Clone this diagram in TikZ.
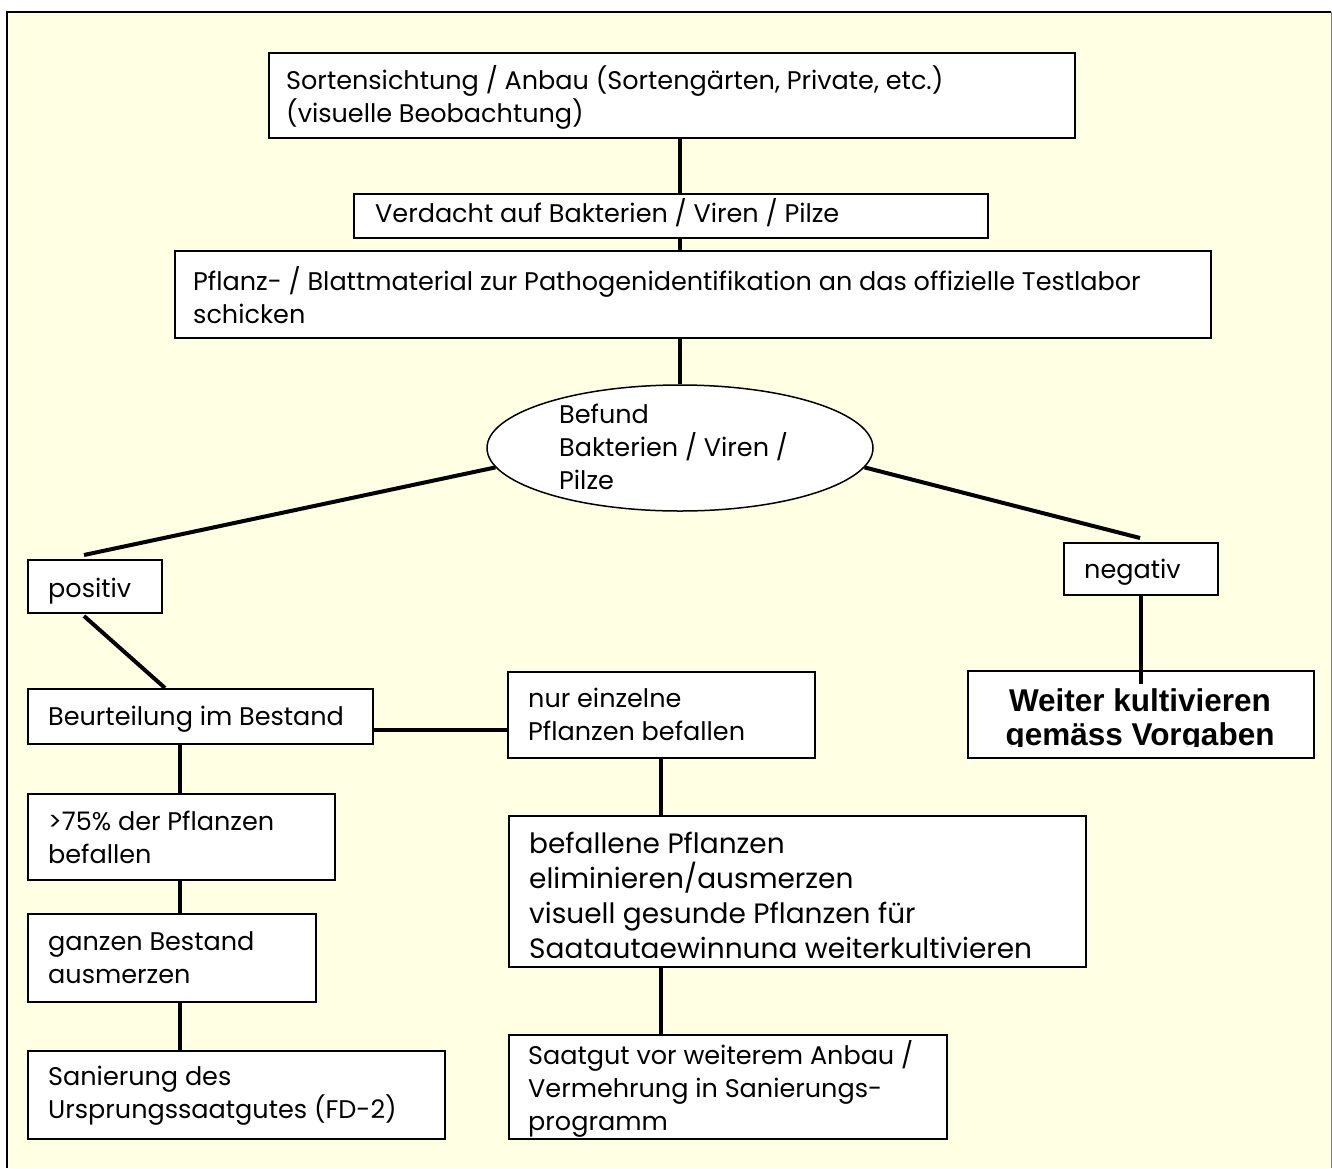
\documentclass[tikz,border=0pt]{standalone}
\usepackage{fontspec}
\setmainfont{Poppins}
\newfontfamily\arialfont{Liberation Sans}
\usetikzlibrary{shapes.geometric,calc}
\definecolor{bgyellow}{RGB}{255,255,228}
\begin{document}
\begin{tikzpicture}[x=1pt,y=-1pt,
  box/.style={draw=black, line width=1.5pt, fill=white, rectangle, inner sep=0pt, anchor=north west},
  txt/.style={inner sep=0pt, anchor=west, align=left, font=\fontsize{25.5}{33}\selectfont},
  stxt/.style={inner sep=0pt, anchor=base west, font=\fontsize{25.5}{33}\selectfont},
  con/.style={line width=4pt},
]
\useasboundingbox (0,0) rectangle (1332,1168);
\fill[bgyellow] (7,12) rectangle (1331,1168);
\draw[line width=1.5pt] (7,1168) -- (7,12) -- (1331,12);
\draw[gray, line width=1pt] (1331,12) -- (1331,1168);

% boxes
\node[box, minimum width=806, minimum height=85] (A) at (268,52) {};
\node[box, minimum width=634, minimum height=44] (B) at (353,193) {};
\node[box, minimum width=1036, minimum height=87] (C) at (174,250) {};
\node[draw=black, line width=1.5pt, fill=white, ellipse, inner sep=0pt, minimum width=386, minimum height=126] (D) at (680,448) {};
\node[box, minimum width=134, minimum height=53] (P) at (27,559) {};
\node[box, minimum width=154, minimum height=52] (N) at (1063,542) {};
\node[box, minimum width=345, minimum height=55] (Beu) at (27,688) {};
\node[box, minimum width=307, minimum height=86] (Nur) at (507,671) {};
\node[box, minimum width=346, minimum height=87] (W) at (967,670) {};
\node[box, minimum width=307, minimum height=86] (G75) at (27,793) {};
\node[box, minimum width=577, minimum height=151] (Bef) at (508,815) {};
\node[box, minimum width=288, minimum height=88] (Gz) at (27,913) {};
\node[box, minimum width=417, minimum height=88] (San) at (27,1050) {};
\node[box, minimum width=438, minimum height=104] (Saat) at (508,1034) {};

% texts
\node[txt] (tA) at (286,97) {Sortensichtung / Anbau (Sortengärten, Private, etc.)\\(visuelle Beobachtung)};
\node[stxt] (tB) at (375,222) {Verdacht auf Bakterien / Viren / Pilze};
\node[txt] (tC) at (193,295) {Pflanz- / Blattmaterial zur Pathogenidentifikation an das offizielle Testlabor\\schicken};
\node[txt] (tD) at (559,447) {Befund\\Bakterien / Viren /\\Pilze};
\node[stxt] (tP) at (48,597) {positiv};
\node[stxt] (tN) at (1084,578) {negativ};
\node[stxt] (tBeu) at (48,725) {Beurteilung im Bestand};
\node[txt] (tNur) at (528,714.5) {nur einzelne\\Pflanzen befallen};
\node[txt] (tG75) at (48,837) {>75\% der Pflanzen\\befallen};
\node[txt] (tGz) at (48,957.5) {ganzen Bestand\\ausmerzen};
\node[txt] (tSan) at (48,1096) {Sanierung des\\Ursprungssaatgutes (FD-2)};
\node[txt] (tSaat) at (528,1089) {Saatgut vor weiterem Anbau /\\Vermehrung in Sanierungs-\\programm};
\begin{scope}
\clip (508,815) rectangle (1085,957);
\node[txt, font=\fontsize{28}{35}\selectfont] (tBef) at (529,899.5) {befallene Pflanzen\\eliminieren/ausmerzen\\visuell gesunde Pflanzen für\\Saatgutgewinnung weiterkultivieren};
\end{scope}
\begin{scope}
\clip (967,670) rectangle (1313,746);
\node[inner sep=0pt, align=center, font=\arialfont\bfseries\fontsize{31.5}{34}\selectfont] (tW) at (1140,720.5) {Weiter kultivieren\\gemäss Vorgaben};
\end{scope}

% connectors
\coordinate (pl) at (84,555);
\coordinate (pr) at (1140,538);
\coordinate (wt) at (1141,684);
\coordinate (pb) at (84,616);
\coordinate (bt) at (165,688);
\coordinate (hy) at (0,730);
\coordinate (xl) at (180,0);
\coordinate (xr) at (661,0);
\draw[con] (A.south -| D.center) -- (B.north -| D.center);
\draw[con] (B.south -| D.center) -- (C.north -| D.center);
\draw[con] (C.south -| D.center) -- (D.north);
\draw[con] (D.186) -- (pl);
\draw[con] (D.-6) -- (pr);
\draw[con] (N.south -| wt) -- (wt);
\draw[con] (pb) -- (bt);
\draw[con] (Beu.east |- hy) -- (Nur.west |- hy);
\draw[con] (Beu.south -| xl) -- (G75.north -| xl);
\draw[con] (G75.south -| xl) -- (Gz.north -| xl);
\draw[con] (Gz.south -| xl) -- (San.north -| xl);
\draw[con] (Nur.south -| xr) -- (Bef.north -| xr);
\draw[con] (Bef.south -| xr) -- (Saat.north -| xr);
\end{tikzpicture}
\end{document}
